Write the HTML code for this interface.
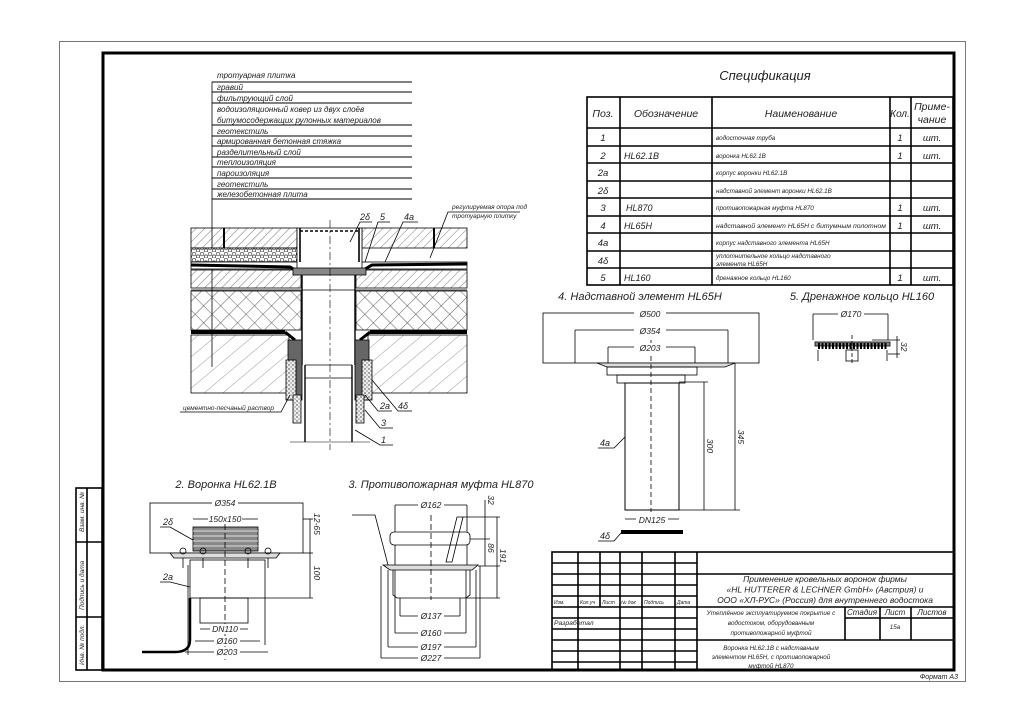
<!DOCTYPE html>
<html><head><meta charset="utf-8">
<style>
html,body{margin:0;padding:0;background:#fff;}
svg{display:block;}
text{font-family:"Liberation Sans","DejaVu Sans",sans-serif;font-style:italic;fill:#222;}
</style></head>
<body>
<svg width="1024" height="723" viewBox="0 0 1024 723" xmlns="http://www.w3.org/2000/svg">
<defs>
<pattern id="hd" width="6" height="6" patternUnits="userSpaceOnUse" patternTransform="rotate(45)">
<line x1="0" y1="0" x2="0" y2="6" stroke="#444" stroke-width="0.7"/></pattern>
<pattern id="hc" width="12" height="12" patternUnits="userSpaceOnUse" patternTransform="rotate(45)">
<line x1="0" y1="0" x2="0" y2="12" stroke="#333" stroke-width="0.8"/><line x1="0" y1="0" x2="12" y2="0" stroke="#333" stroke-width="0.8"/></pattern>
<pattern id="hw" width="12" height="12" patternUnits="userSpaceOnUse" patternTransform="rotate(50)">
<line x1="0" y1="0" x2="0" y2="12" stroke="#555" stroke-width="0.6"/></pattern>
<pattern id="gr" width="8" height="6" patternUnits="userSpaceOnUse">
<rect width="8" height="6" fill="#fff"/><circle cx="2" cy="2" r="1.8" fill="none" stroke="#333" stroke-width="0.7"/><circle cx="6" cy="4.5" r="1.6" fill="none" stroke="#333" stroke-width="0.7"/></pattern>
<pattern id="dt" width="4" height="4" patternUnits="userSpaceOnUse"><rect width="4" height="4" fill="#eee"/><circle cx="1" cy="1" r="0.7" fill="#333"/><circle cx="3" cy="3" r="0.6" fill="#555"/></pattern>
</defs>

<rect x="59.5" y="41.5" width="906" height="640" fill="none" stroke="#777" stroke-width="1"/>
<rect x="103" y="53" width="851" height="617" fill="none" stroke="#000" stroke-width="3"/>
<text x="958" y="679" font-size="7" text-anchor="end">Формат А3</text>

<g stroke="#000" stroke-width="1.6" fill="none">
<rect x="76" y="488" width="26" height="182"/>
<line x1="87" y1="488" x2="87" y2="670"/>
<line x1="76" y1="542" x2="102" y2="542"/>
<line x1="76" y1="617" x2="102" y2="617"/>
</g>
<g font-size="6.5">
<text transform="translate(84,532) rotate(-90)">Взам. инв. №</text>
<text transform="translate(84,610) rotate(-90)">Подпись и дата</text>
<text transform="translate(84,665) rotate(-90)">Инв. № подл.</text>
</g>

<g stroke="#000" stroke-width="1.1">
<line x1="212" y1="82" x2="412" y2="82"/><line x1="212" y1="92" x2="412" y2="92"/>
<line x1="212" y1="103" x2="412" y2="103"/><line x1="212" y1="125" x2="412" y2="125"/>
<line x1="212" y1="136" x2="412" y2="136"/><line x1="212" y1="146" x2="412" y2="146"/>
<line x1="212" y1="157" x2="412" y2="157"/><line x1="212" y1="167" x2="412" y2="167"/>
<line x1="212" y1="178" x2="412" y2="178"/><line x1="212" y1="189" x2="412" y2="189"/>
<line x1="212" y1="199" x2="412" y2="199"/>
<line x1="212" y1="82" x2="212" y2="367" stroke-width="0.8"/>
</g>
<g font-size="8">
<text x="217" y="78">тротуарная плитка</text>
<text x="217" y="90">гравий</text>
<text x="217" y="101">фильтрующий слой</text>
<text x="217" y="112">водоизоляционный ковер из двух слоёв</text>
<text x="217" y="123">битумосодержащих рулонных материалов</text>
<text x="217" y="134">геотекстиль</text>
<text x="217" y="144">армированная бетонная стяжка</text>
<text x="217" y="155">разделительный слой</text>
<text x="217" y="165">теплоизоляция</text>
<text x="217" y="176">пароизоляция</text>
<text x="217" y="187">геотекстиль</text>
<text x="217" y="197">железобетонная плита</text>
</g>

<g stroke="#000" stroke-width="0.8">
<rect x="191" y="228" width="106" height="20" fill="url(#hd)"/>
<rect x="362" y="228" width="105" height="20" fill="url(#hd)"/>
<line x1="224" y1="228" x2="224" y2="248" stroke-width="2"/>
<line x1="434" y1="228" x2="434" y2="248" stroke-width="2"/>
<rect x="191" y="248" width="106" height="14" fill="url(#gr)"/>
<rect x="191" y="262" width="276" height="7" fill="#fff"/>
<path d="M191 265 L290 267 L300 273 L358 273 L372 265 L467 264" fill="none" stroke-width="3"/>
<rect x="191" y="270" width="110" height="18" fill="url(#hd)"/>
<rect x="356" y="270" width="111" height="18" fill="url(#hd)"/>
<line x1="191" y1="290" x2="467" y2="290"/>
<rect x="191" y="291" width="110" height="39" fill="url(#hc)"/>
<rect x="356" y="291" width="111" height="39" fill="url(#hc)"/>
<line x1="191" y1="332" x2="285" y2="332" stroke-width="4"/>
<line x1="370" y1="332" x2="467" y2="332" stroke-width="4"/>
<path d="M285 332 L295 340" stroke-width="3"/><path d="M370 332 L360 340" stroke-width="3"/>
<rect x="191" y="335" width="98" height="58" fill="url(#hw)"/>
<rect x="368" y="335" width="99" height="58" fill="url(#hw)"/>
<rect x="297" y="228" width="65" height="42" fill="#fff"/>
<line x1="300" y1="231" x2="359" y2="231" stroke-dasharray="3,2" stroke-width="1.5"/>
<line x1="300" y1="228" x2="300" y2="262" stroke-width="1.6"/>
<line x1="359" y1="228" x2="359" y2="262" stroke-width="1.6"/>
<rect x="293" y="268" width="73" height="7" fill="#888"/>
<line x1="302" y1="275" x2="302" y2="365" stroke-width="1.4"/>
<line x1="355" y1="275" x2="355" y2="365" stroke-width="1.4"/>
<line x1="305" y1="365" x2="305" y2="442" stroke-width="1.4"/>
<line x1="352" y1="365" x2="352" y2="442" stroke-width="1.4"/>
<line x1="305" y1="365" x2="352" y2="365"/>
<line x1="305" y1="378" x2="352" y2="378"/>
<rect x="288" y="340" width="14" height="60" fill="#666"/>
<rect x="355" y="340" width="14" height="60" fill="#666"/>
<rect x="286" y="360" width="10" height="40" fill="url(#dt)"/>
<rect x="362" y="360" width="10" height="40" fill="url(#dt)"/>
<rect x="293" y="395" width="8" height="28" fill="url(#dt)"/>
<rect x="356" y="395" width="8" height="28" fill="url(#dt)"/>
<line x1="330" y1="220" x2="330" y2="450" stroke-dasharray="8,3,2,3" stroke-width="0.6"/>
<line x1="290" y1="442" x2="370" y2="442" stroke-width="0.6"/>
<path d="M350 242 L360 222 L372 222" fill="none"/>
<path d="M365 262 L378 222 L390 222" fill="none"/>
<path d="M385 262 L403 222 L418 222" fill="none"/>
<path d="M430 258 L448 212 L520 212" fill="none"/>
<path d="M180 412 L281 412 L290 395" fill="none"/>
<path d="M365 395 L378 411 L392 411" fill="none"/>
<path d="M372 380 L398 411 L412 411" fill="none"/>
<path d="M365 410 L380 428 L393 428" fill="none"/>
<path d="M355 430 L380 445 L393 445" fill="none"/>
</g>
<g font-size="9">
<text x="360" y="220">2δ</text><text x="380" y="220">5</text><text x="404" y="220">4a</text>
<text x="380" y="409">2a</text><text x="398" y="409">4δ</text>
<text x="381" y="426">3</text><text x="381" y="443">1</text>
</g>
<text x="452" y="209" font-size="6.5">регулируемая опора под</text>
<text x="452" y="218" font-size="6.5">тротуарную плитку</text>
<text x="183" y="410" font-size="6.5">цементно-песчаный раствор</text>

<text x="765" y="80" font-size="13" text-anchor="middle">Спецификация</text>
<g stroke="#000" stroke-width="1.6" fill="none">
<rect x="587" y="97" width="366" height="188"/>
<line x1="620" y1="97" x2="620" y2="285"/><line x1="712" y1="97" x2="712" y2="285"/>
<line x1="890" y1="97" x2="890" y2="285"/><line x1="911" y1="97" x2="911" y2="285"/>
<line x1="587" y1="128" x2="953" y2="128"/><line x1="587" y1="146" x2="953" y2="146"/>
<line x1="587" y1="163" x2="953" y2="163"/><line x1="587" y1="181" x2="953" y2="181"/>
<line x1="587" y1="198" x2="953" y2="198"/><line x1="587" y1="216" x2="953" y2="216"/>
<line x1="587" y1="233" x2="953" y2="233"/><line x1="587" y1="251" x2="953" y2="251"/>
<line x1="587" y1="268" x2="953" y2="268"/>
</g>
<g font-size="10.5" text-anchor="middle">
<text x="603" y="117">Поз.</text><text x="666" y="117">Обозначение</text>
<text x="801" y="117">Наименование</text><text x="900" y="117" font-size="10">Кол.</text>
<text x="932" y="110">Приме-</text><text x="932" y="123">чание</text>
</g>
<g font-size="9.5" text-anchor="middle">
<text x="603" y="141">1</text><text x="603" y="159">2</text><text x="603" y="176">2a</text>
<text x="603" y="194">2δ</text><text x="603" y="211">3</text><text x="603" y="229">4</text>
<text x="603" y="246">4a</text><text x="603" y="264">4δ</text><text x="603" y="281">5</text>
<text x="900" y="141">1</text><text x="900" y="159">1</text><text x="900" y="211">1</text>
<text x="900" y="229">1</text><text x="900" y="281">1</text>
<text x="932" y="141">шт.</text><text x="932" y="159">шт.</text><text x="932" y="211">шт.</text>
<text x="932" y="229">шт.</text><text x="932" y="281">шт.</text>
</g>
<g font-size="9">
<text x="624" y="159">HL62.1B</text><text x="626" y="211">HL870</text>
<text x="624" y="229">HL65H</text><text x="624" y="281">HL160</text>
</g>
<g font-size="6.3">
<text x="716" y="140">водосточная труба</text>
<text x="716" y="158">воронка  HL62.1B</text>
<text x="716" y="175">корпус воронки HL62.1B</text>
<text x="716" y="193">надставной элемент воронки HL62.1B</text>
<text x="716" y="210">противопожарная муфта HL870</text>
<text x="716" y="228" textLength="170" lengthAdjust="spacingAndGlyphs">надставной элемент HL65H с битумным полотном</text>
<text x="716" y="245">корпус надставного элемента HL65H</text>
<text x="716" y="258">уплотнительное кольцо надставного</text>
<text x="716" y="266">элемента HL65H</text>
<text x="716" y="280">дренажное кольцо   HL160</text>
</g>

<text x="640" y="300" font-size="11" text-anchor="middle">4. Надставной элемент HL65H</text>
<text x="862" y="300" font-size="11" text-anchor="middle">5. Дренажное кольцо HL160</text>
<g stroke="#000" stroke-width="0.8" fill="none">
<rect x="543" y="313" width="216" height="50"/>
<line x1="575" y1="330" x2="728" y2="330"/><line x1="575" y1="330" x2="575" y2="363"/><line x1="728" y1="330" x2="728" y2="363"/>
<line x1="608" y1="347" x2="695" y2="347"/><line x1="608" y1="347" x2="608" y2="363"/><line x1="695" y1="347" x2="695" y2="363"/>
<path d="M597 363 L735 363 L725 367 L607 367 Z" fill="#ddd"/>
<rect x="607" y="367" width="90" height="8"/>
<rect x="617" y="375" width="68" height="8"/>
<rect x="625" y="383" width="54" height="127" stroke-width="1"/>
<line x1="651" y1="340" x2="651" y2="512" stroke-dasharray="5,3"/>
<line x1="625" y1="519" x2="679" y2="519"/>
<line x1="679" y1="382" x2="708" y2="382"/><line x1="679" y1="510" x2="740" y2="510"/>
<line x1="704" y1="382" x2="704" y2="510"/><line x1="735" y1="363" x2="735" y2="510"/>
<path d="M625 437 L614 448 L598 448"/>
<path d="M621 533 L614 541 L598 541"/>
</g>
<rect x="621" y="530" width="62" height="4" fill="#000"/>
<g font-size="8.5" text-anchor="middle">
<rect x="634" y="309" width="32" height="10" fill="#fff"/><text x="650" y="317">Ø500</text>
<rect x="634" y="326" width="32" height="10" fill="#fff"/><text x="650" y="334">Ø354</text>
<rect x="634" y="343" width="32" height="10" fill="#fff"/><text x="650" y="351">Ø203</text>
<rect x="636" y="515" width="32" height="10" fill="#fff"/><text x="652" y="523">DN125</text>
<text transform="translate(707,446) rotate(90)">300</text>
<text transform="translate(738,437) rotate(90)">345</text>
</g>
<text x="600" y="446" font-size="9">4a</text><text x="600" y="539" font-size="9">4δ</text>

<g stroke="#000" stroke-width="0.8" fill="none">
<line x1="813" y1="314" x2="888" y2="314"/><line x1="813" y1="314" x2="813" y2="340"/><line x1="888" y1="314" x2="888" y2="340"/>
<rect x="815" y="342" width="75" height="4" fill="#888"/>
<path d="M818 346 L887 346" stroke-dasharray="2,1.5" stroke-width="6"/>
<line x1="818" y1="350" x2="818" y2="361"/><line x1="887" y1="350" x2="887" y2="361"/>
<rect x="846" y="350" width="12" height="11"/>
<line x1="852" y1="335" x2="852" y2="365" stroke-dasharray="4,2"/>
<line x1="872" y1="340" x2="900" y2="340"/><line x1="888" y1="354" x2="900" y2="354"/>
<line x1="897" y1="336" x2="897" y2="358"/>
</g>
<rect x="838" y="309" width="26" height="10" fill="#fff"/><text x="851" y="317" font-size="8.5" text-anchor="middle">Ø170</text>
<text transform="translate(901,342) rotate(90)" font-size="8.5">32</text>

<text x="226" y="488" font-size="11" text-anchor="middle">2. Воронка HL62.1B</text>
<g stroke="#000" stroke-width="0.8" fill="none">
<rect x="150" y="503" width="153" height="50"/>
<line x1="193" y1="519" x2="258" y2="519"/>
<rect x="193" y="527" width="65" height="24" fill="#888"/>
<line x1="193" y1="531" x2="258" y2="531" stroke="#fff"/><line x1="193" y1="536" x2="258" y2="536" stroke="#fff"/>
<line x1="193" y1="541" x2="258" y2="541" stroke="#fff"/><line x1="193" y1="546" x2="258" y2="546" stroke="#fff"/>
<path d="M170 553 L280 553 L276 558 L174 558 Z" fill="#ddd"/>
<rect x="190" y="560" width="75" height="38"/>
<rect x="200" y="598" width="48" height="25"/>
<line x1="225" y1="515" x2="225" y2="660" stroke-dasharray="6,3"/>
<line x1="200" y1="629" x2="248" y2="629"/>
<line x1="195" y1="641" x2="260" y2="641"/><line x1="185" y1="652" x2="268" y2="652"/>
<line x1="265" y1="598" x2="265" y2="645"/>
<line x1="188" y1="565" x2="188" y2="655"/>
<path d="M190 598 L190 640 Q190 652 175 652 L142 652" stroke-width="2.5"/>
<line x1="303" y1="519" x2="313" y2="519"/><line x1="303" y1="553" x2="313" y2="553"/>
<line x1="310" y1="519" x2="310" y2="598"/><line x1="265" y1="598" x2="313" y2="598"/>
<path d="M193 540 L170 527 L160 527"/><path d="M190 587 L170 582 L160 582"/>
<circle cx="183" cy="551" r="3"/><circle cx="203" cy="551" r="3"/><circle cx="248" cy="551" r="3"/><circle cx="268" cy="551" r="3"/>
<line x1="183" y1="558" x2="183" y2="568"/><line x1="203" y1="558" x2="203" y2="568"/>
<line x1="248" y1="558" x2="248" y2="568"/><line x1="268" y1="558" x2="268" y2="568"/>
</g>
<g font-size="8.5" text-anchor="middle">
<rect x="212" y="498" width="26" height="10" fill="#fff"/><text x="225" y="506">Ø354</text>
<rect x="208" y="514" width="34" height="10" fill="#fff"/><text x="225" y="522">150x150</text>
<rect x="210" y="624" width="30" height="10" fill="#fff"/><text x="225" y="632">DN110</text>
<rect x="214" y="636" width="26" height="10" fill="#fff"/><text x="227" y="644">Ø160</text>
<rect x="214" y="647" width="26" height="10" fill="#fff"/><text x="227" y="655">Ø203</text>
<text transform="translate(314,524) rotate(90)">12-65</text>
<text transform="translate(314,573) rotate(90)">100</text>
</g>
<text x="163" y="525" font-size="9">2δ</text><text x="163" y="580" font-size="9">2a</text>

<text x="441" y="488" font-size="11" text-anchor="middle">3. Противопожарная муфта HL870</text>
<g stroke="#000" stroke-width="0.8" fill="none">
<line x1="395" y1="505" x2="467" y2="505"/>
<line x1="395" y1="505" x2="395" y2="532"/><line x1="467" y1="505" x2="467" y2="532"/>
<rect x="390" y="532" width="80" height="13" rx="4"/>
<line x1="395" y1="545" x2="395" y2="565"/><line x1="467" y1="545" x2="467" y2="565"/>
<path d="M352 515 L375 515 L388 565"/>
<path d="M457 517 L463 517 L452 562 L446 562 Z"/>
<path d="M383 565 L478 565 L472 570 L390 570 Z" fill="#ddd"/>
<path d="M393 570 L393 595 L397 598 L466 598 L470 595 L470 570"/>
<line x1="431" y1="515" x2="431" y2="600" stroke-dasharray="6,3"/>
<line x1="400" y1="598" x2="400" y2="616"/><line x1="460" y1="598" x2="460" y2="616"/>
<line x1="400" y1="616" x2="460" y2="616"/>
<line x1="395" y1="570" x2="395" y2="633"/><line x1="466" y1="570" x2="466" y2="633"/>
<line x1="395" y1="633" x2="466" y2="633"/>
<line x1="388" y1="570" x2="388" y2="647"/><line x1="476" y1="570" x2="476" y2="647"/>
<line x1="388" y1="647" x2="476" y2="647"/>
<line x1="381" y1="566" x2="381" y2="658"/><line x1="480" y1="566" x2="480" y2="658"/>
<line x1="381" y1="658" x2="480" y2="658"/>
<line x1="463" y1="517" x2="500" y2="517"/><line x1="470" y1="539" x2="490" y2="539"/>
<line x1="478" y1="566" x2="500" y2="566"/><line x1="466" y1="598" x2="500" y2="598"/>
<line x1="485" y1="500" x2="485" y2="566"/><line x1="497" y1="517" x2="497" y2="598"/>
</g>
<g font-size="8.5" text-anchor="middle">
<rect x="418" y="500" width="26" height="10" fill="#fff"/><text x="431" y="508">Ø162</text>
<rect x="418" y="611" width="26" height="10" fill="#fff"/><text x="431" y="619">Ø137</text>
<rect x="418" y="628" width="26" height="10" fill="#fff"/><text x="431" y="636">Ø160</text>
<rect x="418" y="642" width="26" height="10" fill="#fff"/><text x="431" y="650">Ø197</text>
<rect x="418" y="653" width="26" height="10" fill="#fff"/><text x="431" y="661">Ø227</text>
<text transform="translate(488,500) rotate(90)">32</text>
<text transform="translate(488,548) rotate(90)">86</text>
<text transform="translate(500,556) rotate(90)">191</text>
</g>

<g stroke="#000" stroke-width="1.6" fill="none">
<rect x="552" y="552" width="402" height="118"/>
<line x1="697" y1="552" x2="697" y2="670"/>
<line x1="578" y1="552" x2="578" y2="670"/><line x1="600" y1="552" x2="600" y2="607"/>
<line x1="620" y1="552" x2="620" y2="670"/><line x1="642" y1="552" x2="642" y2="670"/>
<line x1="675" y1="552" x2="675" y2="670"/>
<line x1="552" y1="563" x2="697" y2="563"/><line x1="552" y1="574" x2="697" y2="574"/>
<line x1="552" y1="585" x2="697" y2="585"/><line x1="552" y1="596" x2="697" y2="596"/>
<line x1="552" y1="607" x2="954" y2="607"/><line x1="552" y1="618" x2="697" y2="618"/>
<line x1="552" y1="629" x2="697" y2="629"/><line x1="552" y1="640" x2="954" y2="640"/>
<line x1="552" y1="651" x2="697" y2="651"/><line x1="552" y1="662" x2="697" y2="662"/>
<line x1="697" y1="574" x2="954" y2="574"/>
<line x1="845" y1="607" x2="845" y2="640"/><line x1="880" y1="607" x2="880" y2="640"/>
<line x1="911" y1="607" x2="911" y2="640"/><line x1="845" y1="618" x2="954" y2="618"/>
</g>
<g font-size="5">
<text x="554" y="604">Изм.</text><text x="580" y="604">Кол.уч</text><text x="602" y="604">Лист</text>
<text x="621" y="604">№ док</text><text x="644" y="604">Подпись</text><text x="677" y="604">Дата</text>
</g>
<text x="554" y="625" font-size="6.8">Разработал</text>
<g font-size="8.5" text-anchor="middle">
<text x="825" y="582">Применение кровельных воронок фирмы</text>
<text x="825" y="592.5">«HL HUTTERER &amp; LECHNER GmbH» (Австрия) и</text>
<text x="825" y="603">ООО «ХЛ-РУС» (Россия) для внутреннего водостока</text>
</g>
<g font-size="6.3" text-anchor="middle">
<text x="771" y="615">Утеплённое эксплуатируемое покрытие с</text>
<text x="771" y="625">водостоком, оборудованным</text>
<text x="771" y="635">противопожарной муфтой</text>
<text x="771" y="650">Воронка HL62.1B с надставным</text>
<text x="771" y="659">элементом HL65H, с противопожарной</text>
<text x="771" y="668">муфтой HL870</text>
<text x="895" y="629">15а</text>
</g>
<g font-size="8" text-anchor="middle">
<text x="862" y="615">Стадия</text><text x="895" y="615">Лист</text><text x="932" y="615">Листов</text>
</g>
</svg>
</body></html>
